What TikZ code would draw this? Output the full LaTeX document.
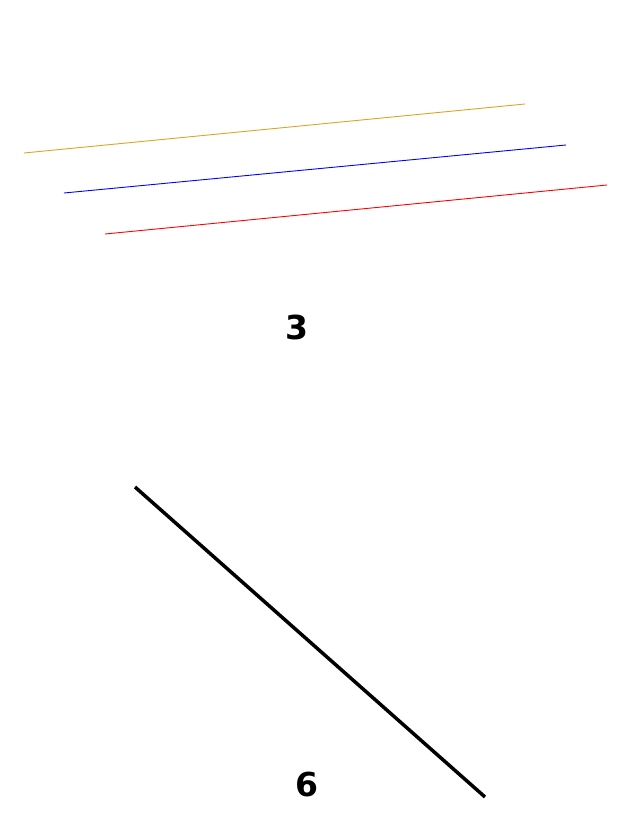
\documentclass[tikz,border=0pt]{standalone}
\usepackage{fontspec}
\setmainfont{DejaVu Sans}
\definecolor{lineorange}{HTML}{DAA520}
\begin{document}
\begin{tikzpicture}[x=1pt,y=-1pt,
    thinline/.style={line width=0.9pt},
    bignum/.style={font=\fontsize{33}{33}\selectfont\bfseries}]
        % Riquadro della pagina
        \useasboundingbox (0,0) rectangle (644,819);

        % Tre rette parallele
        \coordinate (oA) at (24,153); \coordinate (oB) at (525,104);
        \coordinate (bA) at (64,193); \coordinate (bB) at (566,145);
        \coordinate (rA) at (105,234); \coordinate (rB) at (607,185);
        \draw[thinline,lineorange] (oA) -- (oB);
        \draw[thinline,blue] (bA) -- (bB);
        \draw[thinline,red] (rA) -- (rB);

        \node[bignum] (tre) at (297,327) {3}; % Etichetta sopra

        % Retta spessa
        \coordinate (kA) at (135,487); \coordinate (kB) at (485,797);
        \draw[line width=3.5pt] (kA) -- (kB);

        \node[bignum] (sei) at (307,784) {6}; % Etichetta sotto
    \end{tikzpicture}
\end{document}
